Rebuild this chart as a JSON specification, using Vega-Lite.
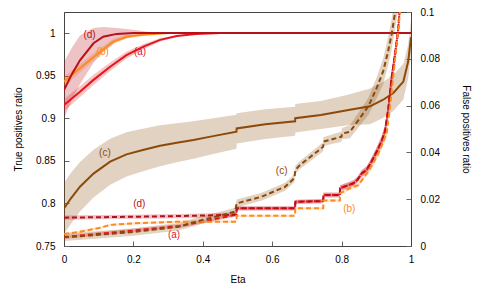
{
 "$schema": "https://vega.github.io/schema/vega-lite/v6.json",
 "width": 347,
 "height": 234,
 "autosize": {"type": "none"},
 "padding": {"left": 64, "top": 12, "right": 69, "bottom": 42},
 "config": {
  "view": {"stroke": "#444", "strokeWidth": 1},
  "font": "Liberation Sans",
  "text": {"font": "Liberation Sans", "fontSize": 10},
  "axis": {"labelFont": "Liberation Sans", "titleFont": "Liberation Sans", "labelFontSize": 10, "titleFontSize": 10, "titleFontWeight": "normal", "labelColor": "#000", "titleColor": "#000", "domainColor": "#444", "tickColor": "#666", "tickWidth": 1, "grid": false, "tickSize": -5, "labelPadding": 14, "labelFlush": false, "labelOverlap": false, "zindex": 1}
 },
 "datasets": {
  "tp": [
   {"eta": 0, "s": "a", "v": 0.9155, "lo": 0.9085, "hi": 0.9225},
   {"eta": 0.046, "s": "a", "v": 0.931, "lo": 0.9245, "hi": 0.9375},
   {"eta": 0.085, "s": "a", "v": 0.945, "lo": 0.939, "hi": 0.951},
   {"eta": 0.133, "s": "a", "v": 0.9605, "lo": 0.9555, "hi": 0.9655},
   {"eta": 0.18, "s": "a", "v": 0.974, "lo": 0.97, "hi": 0.978},
   {"eta": 0.229, "s": "a", "v": 0.984, "lo": 0.981, "hi": 0.987},
   {"eta": 0.277, "s": "a", "v": 0.992, "lo": 0.99, "hi": 0.994},
   {"eta": 0.325, "s": "a", "v": 0.9965, "lo": 0.9955, "hi": 0.9975},
   {"eta": 0.38, "s": "a", "v": 0.999, "lo": 0.9985, "hi": 0.9995},
   {"eta": 0.45, "s": "a", "v": 1.0, "lo": 1.0, "hi": 1.0},
   {"eta": 1.0, "s": "a", "v": 1.0, "lo": 1.0, "hi": 1.0},
   {"eta": 0, "s": "b", "v": 0.943, "lo": 0.937, "hi": 0.949},
   {"eta": 0.046, "s": "b", "v": 0.9586, "lo": 0.9536, "hi": 0.9636},
   {"eta": 0.104, "s": "b", "v": 0.978, "lo": 0.974, "hi": 0.982},
   {"eta": 0.142, "s": "b", "v": 0.99, "lo": 0.987, "hi": 0.993},
   {"eta": 0.18, "s": "b", "v": 0.9957, "lo": 0.9937, "hi": 0.9977},
   {"eta": 0.229, "s": "b", "v": 0.998, "lo": 0.997, "hi": 0.999},
   {"eta": 0.3, "s": "b", "v": 1.0, "lo": 1.0, "hi": 1.0},
   {"eta": 1.0, "s": "b", "v": 1.0, "lo": 1.0, "hi": 1.0},
   {"eta": 0, "s": "c", "v": 0.794, "lo": 0.764, "hi": 0.824},
   {"eta": 0.02, "s": "c", "v": 0.806, "lo": 0.776, "hi": 0.836},
   {"eta": 0.046, "s": "c", "v": 0.8196, "lo": 0.7906, "hi": 0.8486},
   {"eta": 0.085, "s": "c", "v": 0.835, "lo": 0.807, "hi": 0.863},
   {"eta": 0.133, "s": "c", "v": 0.849, "lo": 0.822, "hi": 0.876},
   {"eta": 0.18, "s": "c", "v": 0.8576, "lo": 0.8316, "hi": 0.8836},
   {"eta": 0.23, "s": "c", "v": 0.863, "lo": 0.838, "hi": 0.888},
   {"eta": 0.277, "s": "c", "v": 0.8677, "lo": 0.8437, "hi": 0.8917},
   {"eta": 0.325, "s": "c", "v": 0.8712, "lo": 0.8482, "hi": 0.8942},
   {"eta": 0.373, "s": "c", "v": 0.8744, "lo": 0.8524, "hi": 0.8964},
   {"eta": 0.43, "s": "c", "v": 0.879, "lo": 0.858, "hi": 0.9},
   {"eta": 0.497, "s": "c", "v": 0.8842, "lo": 0.8642, "hi": 0.9042},
   {"eta": 0.4976, "s": "c", "v": 0.888, "lo": 0.8702, "hi": 0.9058},
   {"eta": 0.58, "s": "c", "v": 0.893, "lo": 0.8755, "hi": 0.9105},
   {"eta": 0.666, "s": "c", "v": 0.8964, "lo": 0.8794, "hi": 0.9134},
   {"eta": 0.6665, "s": "c", "v": 0.9, "lo": 0.8833, "hi": 0.9167},
   {"eta": 0.74, "s": "c", "v": 0.9038, "lo": 0.8873, "hi": 0.9203},
   {"eta": 0.824, "s": "c", "v": 0.91, "lo": 0.892, "hi": 0.928},
   {"eta": 0.882, "s": "c", "v": 0.914, "lo": 0.893, "hi": 0.935},
   {"eta": 0.92, "s": "c", "v": 0.9217, "lo": 0.9007, "hi": 0.9427},
   {"eta": 0.949, "s": "c", "v": 0.9296, "lo": 0.9086, "hi": 0.9506},
   {"eta": 0.978, "s": "c", "v": 0.943, "lo": 0.922, "hi": 0.964},
   {"eta": 0.992, "s": "c", "v": 0.9668, "lo": 0.9468, "hi": 0.9868},
   {"eta": 1.0, "s": "c", "v": 0.995, "lo": 0.975, "hi": 1.015},
   {"eta": 0, "s": "d", "v": 0.933, "lo": 0.9, "hi": 0.966},
   {"eta": 0.023, "s": "d", "v": 0.952, "lo": 0.922, "hi": 0.983},
   {"eta": 0.046, "s": "d", "v": 0.968, "lo": 0.94, "hi": 0.997},
   {"eta": 0.085, "s": "d", "v": 0.988, "lo": 0.965, "hi": 1.006},
   {"eta": 0.113, "s": "d", "v": 0.9957, "lo": 0.978, "hi": 1.007},
   {"eta": 0.152, "s": "d", "v": 0.999, "lo": 0.99, "hi": 1.006},
   {"eta": 0.2, "s": "d", "v": 1.0, "lo": 0.996, "hi": 1.004},
   {"eta": 0.25, "s": "d", "v": 1.0, "lo": 0.999, "hi": 1.001},
   {"eta": 0.3, "s": "d", "v": 1.0, "lo": 1.0, "hi": 1.0},
   {"eta": 1.0, "s": "d", "v": 1.0, "lo": 1.0, "hi": 1.0}
  ],
  "fp": [
   {"eta": 0, "s": "a", "v": 0.0038, "lo": 0.003, "hi": 0.0046},
   {"eta": 0.1, "s": "a", "v": 0.0052, "lo": 0.0044, "hi": 0.006},
   {"eta": 0.2, "s": "a", "v": 0.0066, "lo": 0.0058, "hi": 0.0074},
   {"eta": 0.28, "s": "a", "v": 0.0078, "lo": 0.007, "hi": 0.0086},
   {"eta": 0.334, "s": "a", "v": 0.0086, "lo": 0.0078, "hi": 0.0094},
   {"eta": 0.4, "s": "a", "v": 0.0104, "lo": 0.0096, "hi": 0.0112},
   {"eta": 0.45, "s": "a", "v": 0.012, "lo": 0.0112, "hi": 0.0128},
   {"eta": 0.497, "s": "a", "v": 0.0134, "lo": 0.0126, "hi": 0.0142},
   {"eta": 0.4976, "s": "a", "v": 0.0161, "lo": 0.0153, "hi": 0.0169},
   {"eta": 0.666, "s": "a", "v": 0.0161, "lo": 0.0153, "hi": 0.0169},
   {"eta": 0.6665, "s": "a", "v": 0.0189, "lo": 0.0181, "hi": 0.0197},
   {"eta": 0.747, "s": "a", "v": 0.0192, "lo": 0.0184, "hi": 0.02},
   {"eta": 0.7475, "s": "a", "v": 0.0218, "lo": 0.0208, "hi": 0.0228},
   {"eta": 0.795, "s": "a", "v": 0.0218, "lo": 0.0208, "hi": 0.0228},
   {"eta": 0.7955, "s": "a", "v": 0.0247, "lo": 0.0235, "hi": 0.0259},
   {"eta": 0.834, "s": "a", "v": 0.0268, "lo": 0.0256, "hi": 0.028},
   {"eta": 0.845, "s": "a", "v": 0.0282, "lo": 0.027, "hi": 0.0294},
   {"eta": 0.858, "s": "a", "v": 0.031, "lo": 0.0296, "hi": 0.0324},
   {"eta": 0.872, "s": "a", "v": 0.0325, "lo": 0.031, "hi": 0.034},
   {"eta": 0.886, "s": "a", "v": 0.036, "lo": 0.0344, "hi": 0.0376},
   {"eta": 0.901, "s": "a", "v": 0.0403, "lo": 0.0385, "hi": 0.0421},
   {"eta": 0.915, "s": "a", "v": 0.0446, "lo": 0.0424, "hi": 0.0468},
   {"eta": 0.925, "s": "a", "v": 0.049, "lo": 0.0465, "hi": 0.0515},
   {"eta": 0.935, "s": "a", "v": 0.059, "lo": 0.056, "hi": 0.062},
   {"eta": 0.944, "s": "a", "v": 0.0718, "lo": 0.0688, "hi": 0.0748},
   {"eta": 0.954, "s": "a", "v": 0.0818, "lo": 0.0788, "hi": 0.0848},
   {"eta": 0.962, "s": "a", "v": 0.091, "lo": 0.088, "hi": 0.094},
   {"eta": 0.968, "s": "a", "v": 0.102, "lo": 0.099, "hi": 0.105},
   {"eta": 0.975, "s": "a", "v": 0.115, "lo": 0.112, "hi": 0.118},
   {"eta": 0, "s": "d", "v": 0.0121, "lo": 0.0112, "hi": 0.013},
   {"eta": 0.1, "s": "d", "v": 0.0123, "lo": 0.0114, "hi": 0.0132},
   {"eta": 0.2, "s": "d", "v": 0.0125, "lo": 0.0116, "hi": 0.0134},
   {"eta": 0.334, "s": "d", "v": 0.0128, "lo": 0.0119, "hi": 0.0137},
   {"eta": 0.45, "s": "d", "v": 0.0132, "lo": 0.0123, "hi": 0.0141},
   {"eta": 0.497, "s": "d", "v": 0.0135, "lo": 0.0126, "hi": 0.0144},
   {"eta": 0.4976, "s": "d", "v": 0.0161, "lo": 0.0152, "hi": 0.017},
   {"eta": 0.666, "s": "d", "v": 0.0161, "lo": 0.0152, "hi": 0.017},
   {"eta": 0.6665, "s": "d", "v": 0.0189, "lo": 0.018, "hi": 0.0198},
   {"eta": 0.747, "s": "d", "v": 0.0192, "lo": 0.0183, "hi": 0.0201},
   {"eta": 0.7475, "s": "d", "v": 0.0218, "lo": 0.0207, "hi": 0.0229},
   {"eta": 0.795, "s": "d", "v": 0.0218, "lo": 0.0207, "hi": 0.0229},
   {"eta": 0.7955, "s": "d", "v": 0.0247, "lo": 0.0234, "hi": 0.026},
   {"eta": 0.834, "s": "d", "v": 0.0268, "lo": 0.0255, "hi": 0.0281},
   {"eta": 0.845, "s": "d", "v": 0.0282, "lo": 0.0269, "hi": 0.0295},
   {"eta": 0.858, "s": "d", "v": 0.031, "lo": 0.0295, "hi": 0.0325},
   {"eta": 0.872, "s": "d", "v": 0.0325, "lo": 0.0309, "hi": 0.0341},
   {"eta": 0.886, "s": "d", "v": 0.036, "lo": 0.0343, "hi": 0.0377},
   {"eta": 0.901, "s": "d", "v": 0.0403, "lo": 0.0384, "hi": 0.0422},
   {"eta": 0.915, "s": "d", "v": 0.0446, "lo": 0.0423, "hi": 0.0469},
   {"eta": 0.925, "s": "d", "v": 0.049, "lo": 0.0464, "hi": 0.0516},
   {"eta": 0.935, "s": "d", "v": 0.059, "lo": 0.056, "hi": 0.062},
   {"eta": 0.944, "s": "d", "v": 0.0718, "lo": 0.0688, "hi": 0.0748},
   {"eta": 0.954, "s": "d", "v": 0.0818, "lo": 0.0788, "hi": 0.0848},
   {"eta": 0.962, "s": "d", "v": 0.091, "lo": 0.088, "hi": 0.094},
   {"eta": 0.968, "s": "d", "v": 0.102, "lo": 0.099, "hi": 0.105},
   {"eta": 0.975, "s": "d", "v": 0.115, "lo": 0.112, "hi": 0.118},
   {"eta": 0, "s": "b", "v": 0.0051, "lo": 0.0046, "hi": 0.0056},
   {"eta": 0.046, "s": "b", "v": 0.0061, "lo": 0.0056, "hi": 0.0066},
   {"eta": 0.104, "s": "b", "v": 0.0078, "lo": 0.0073, "hi": 0.0083},
   {"eta": 0.133, "s": "b", "v": 0.009, "lo": 0.0085, "hi": 0.0095},
   {"eta": 0.2, "s": "b", "v": 0.0097, "lo": 0.0092, "hi": 0.0102},
   {"eta": 0.334, "s": "b", "v": 0.0104, "lo": 0.0099, "hi": 0.0109},
   {"eta": 0.497, "s": "b", "v": 0.0104, "lo": 0.0099, "hi": 0.0109},
   {"eta": 0.4976, "s": "b", "v": 0.0129, "lo": 0.0124, "hi": 0.0134},
   {"eta": 0.666, "s": "b", "v": 0.0129, "lo": 0.0124, "hi": 0.0134},
   {"eta": 0.6665, "s": "b", "v": 0.0161, "lo": 0.0156, "hi": 0.0166},
   {"eta": 0.747, "s": "b", "v": 0.0161, "lo": 0.0156, "hi": 0.0166},
   {"eta": 0.7475, "s": "b", "v": 0.0194, "lo": 0.0188, "hi": 0.02},
   {"eta": 0.795, "s": "b", "v": 0.0194, "lo": 0.0188, "hi": 0.02},
   {"eta": 0.7955, "s": "b", "v": 0.0225, "lo": 0.0218, "hi": 0.0232},
   {"eta": 0.824, "s": "b", "v": 0.0247, "lo": 0.024, "hi": 0.0254},
   {"eta": 0.848, "s": "b", "v": 0.026, "lo": 0.0252, "hi": 0.0268},
   {"eta": 0.862, "s": "b", "v": 0.0289, "lo": 0.028, "hi": 0.0298},
   {"eta": 0.877, "s": "b", "v": 0.0318, "lo": 0.0308, "hi": 0.0328},
   {"eta": 0.891, "s": "b", "v": 0.0353, "lo": 0.0342, "hi": 0.0364},
   {"eta": 0.906, "s": "b", "v": 0.0396, "lo": 0.0383, "hi": 0.0409},
   {"eta": 0.92, "s": "b", "v": 0.0446, "lo": 0.0431, "hi": 0.0461},
   {"eta": 0.93, "s": "b", "v": 0.0482, "lo": 0.0465, "hi": 0.0499},
   {"eta": 0.94, "s": "b", "v": 0.06, "lo": 0.058, "hi": 0.062},
   {"eta": 0.95, "s": "b", "v": 0.074, "lo": 0.0715, "hi": 0.0765},
   {"eta": 0.96, "s": "b", "v": 0.088, "lo": 0.0855, "hi": 0.0905},
   {"eta": 0.97, "s": "b", "v": 0.102, "lo": 0.0995, "hi": 0.1045},
   {"eta": 0.976, "s": "b", "v": 0.112, "lo": 0.1095, "hi": 0.1145},
   {"eta": 0, "s": "c", "v": 0.0037, "lo": 0.0021, "hi": 0.0053},
   {"eta": 0.1, "s": "c", "v": 0.0048, "lo": 0.0032, "hi": 0.0064},
   {"eta": 0.2, "s": "c", "v": 0.006, "lo": 0.0044, "hi": 0.0076},
   {"eta": 0.33, "s": "c", "v": 0.0082, "lo": 0.0066, "hi": 0.0098},
   {"eta": 0.4, "s": "c", "v": 0.0112, "lo": 0.0096, "hi": 0.0128},
   {"eta": 0.45, "s": "c", "v": 0.013, "lo": 0.0114, "hi": 0.0146},
   {"eta": 0.4928, "s": "c", "v": 0.0147, "lo": 0.0131, "hi": 0.0163},
   {"eta": 0.4976, "s": "c", "v": 0.0182, "lo": 0.0165, "hi": 0.0199},
   {"eta": 0.57, "s": "c", "v": 0.0211, "lo": 0.0194, "hi": 0.0228},
   {"eta": 0.637, "s": "c", "v": 0.0253, "lo": 0.0236, "hi": 0.027},
   {"eta": 0.664, "s": "c", "v": 0.029, "lo": 0.0273, "hi": 0.0307},
   {"eta": 0.6665, "s": "c", "v": 0.0325, "lo": 0.0308, "hi": 0.0342},
   {"eta": 0.68, "s": "c", "v": 0.0346, "lo": 0.0329, "hi": 0.0363},
   {"eta": 0.747, "s": "c", "v": 0.0424, "lo": 0.0405, "hi": 0.0443},
   {"eta": 0.7475, "s": "c", "v": 0.0446, "lo": 0.0427, "hi": 0.0465},
   {"eta": 0.8, "s": "c", "v": 0.0467, "lo": 0.0445, "hi": 0.0489},
   {"eta": 0.8005, "s": "c", "v": 0.048, "lo": 0.0456, "hi": 0.0504},
   {"eta": 0.824, "s": "c", "v": 0.0488, "lo": 0.046, "hi": 0.0516},
   {"eta": 0.853, "s": "c", "v": 0.0547, "lo": 0.0515, "hi": 0.0579},
   {"eta": 0.877, "s": "c", "v": 0.0597, "lo": 0.056, "hi": 0.0634},
   {"eta": 0.901, "s": "c", "v": 0.0675, "lo": 0.063, "hi": 0.072},
   {"eta": 0.92, "s": "c", "v": 0.0747, "lo": 0.0692, "hi": 0.0802},
   {"eta": 0.934, "s": "c", "v": 0.0832, "lo": 0.0772, "hi": 0.0892},
   {"eta": 0.944, "s": "c", "v": 0.0903, "lo": 0.0838, "hi": 0.0968},
   {"eta": 0.954, "s": "c", "v": 0.0996, "lo": 0.0926, "hi": 0.1066},
   {"eta": 0.965, "s": "c", "v": 0.11, "lo": 0.103, "hi": 0.117}
  ],
  "tpl": [
   {"eta": 0.0737, "v": 0.9981, "s": "d", "t": "(d)"},
   {"eta": 0.1116, "v": 0.978, "s": "b", "t": "(b)"},
   {"eta": 0.219, "v": 0.978, "s": "a", "t": "(a)"},
   {"eta": 0.118, "v": 0.8588, "s": "c", "t": "(c)"}
  ],
  "fpl": [
   {"eta": 0.6273, "v": 0.0322, "s": "c", "t": "(c)"},
   {"eta": 0.217, "v": 0.0178, "s": "d", "t": "(d)"},
   {"eta": 0.317, "v": 0.0047, "s": "a", "t": "(a)"},
   {"eta": 0.8222, "v": 0.0158, "s": "b", "t": "(b)"}
  ]
 },
 "layer": [
  {
   "layer": [
    {
     "data": {"name": "tp"},
     "mark": {"type": "area", "fillOpacity": 0.25, "clip": true},
     "encoding": {
      "x": {"field": "eta", "type": "quantitative", "scale": {"domain": [0, 1], "nice": false, "zero": false}, "axis": {"orient": "bottom", "values": [0, 0.2, 0.4, 0.6, 0.8, 1], "format": "~g", "title": "Eta", "labelPadding": 13, "titlePadding": 10}},
      "y": {"field": "lo", "type": "quantitative", "scale": {"domain": [0.75, 1.0247], "nice": false, "zero": false}, "axis": {"orient": "left", "values": [0.75, 0.8, 0.85, 0.9, 0.95, 1], "format": "~g", "title": "True positives ratio", "titlePadding": 12}},
      "y2": {"field": "hi"},
      "color": {"field": "s", "type": "nominal", "scale": {"domain": ["a", "b", "c", "d"], "range": ["#e8141c", "#ff8a1e", "#8c4a0a", "#b8101a"]}, "legend": null},
      "detail": {"field": "s"}
     }
    },
    {
     "data": {"name": "tp"},
     "mark": {"type": "line", "strokeWidth": 2, "clip": true},
     "encoding": {
      "x": {"field": "eta", "type": "quantitative", "scale": {"domain": [0, 1], "nice": false, "zero": false}, "axis": {"orient": "bottom", "values": [0, 0.2, 0.4, 0.6, 0.8, 1], "format": "~g", "title": "Eta", "labelPadding": 13, "titlePadding": 10}},
      "y": {"field": "v", "type": "quantitative", "scale": {"domain": [0.75, 1.0247], "nice": false, "zero": false}, "axis": {"orient": "left", "values": [0.75, 0.8, 0.85, 0.9, 0.95, 1], "format": "~g", "title": "True positives ratio", "titlePadding": 12}},
      "color": {"field": "s", "type": "nominal", "scale": {"domain": ["a", "b", "c", "d"], "range": ["#e8141c", "#ff8a1e", "#8c4a0a", "#b8101a"]}, "legend": null}
     }
    },
    {
     "data": {"name": "tpl"},
     "mark": {"type": "text", "fontSize": 10, "align": "center", "baseline": "middle"},
     "encoding": {
      "x": {"field": "eta", "type": "quantitative", "scale": {"domain": [0, 1], "nice": false, "zero": false}, "axis": {"orient": "bottom", "values": [0, 0.2, 0.4, 0.6, 0.8, 1], "format": "~g", "title": "Eta", "labelPadding": 13, "titlePadding": 10}},
      "y": {"field": "v", "type": "quantitative", "scale": {"domain": [0.75, 1.0247], "nice": false, "zero": false}, "axis": {"orient": "left", "values": [0.75, 0.8, 0.85, 0.9, 0.95, 1], "format": "~g", "title": "True positives ratio", "titlePadding": 12}},
      "text": {"field": "t"},
      "color": {"field": "s", "type": "nominal", "scale": {"domain": ["a", "b", "c", "d"], "range": ["#e8141c", "#ff8a1e", "#8c4a0a", "#b8101a"]}, "legend": null}
     }
    }
   ]
  },
  {
   "layer": [
    {
     "data": {"name": "fp"},
     "mark": {"type": "area", "fillOpacity": 0.25, "clip": true},
     "encoding": {
      "x": {"field": "eta", "type": "quantitative", "scale": {"domain": [0, 1], "nice": false, "zero": false}, "axis": {"orient": "bottom", "values": [0, 0.2, 0.4, 0.6, 0.8, 1], "format": "~g", "title": "Eta", "labelPadding": 13, "titlePadding": 10}},
      "y": {"field": "lo", "type": "quantitative", "scale": {"domain": [0, 0.1], "nice": false}, "axis": {"orient": "right", "values": [0, 0.02, 0.04, 0.06, 0.08, 0.1], "format": "~g", "title": "False positives ratio", "titlePadding": 21}},
      "y2": {"field": "hi"},
      "color": {"field": "s", "type": "nominal", "scale": {"domain": ["a", "b", "c", "d"], "range": ["#e8141c", "#ff8a1e", "#8c4a0a", "#b8101a"]}, "legend": null},
      "detail": {"field": "s"}
     }
    },
    {
     "data": {"name": "fp"},
     "mark": {"type": "line", "strokeWidth": 2, "strokeDash": [5, 3], "clip": true},
     "encoding": {
      "x": {"field": "eta", "type": "quantitative", "scale": {"domain": [0, 1], "nice": false, "zero": false}, "axis": {"orient": "bottom", "values": [0, 0.2, 0.4, 0.6, 0.8, 1], "format": "~g", "title": "Eta", "labelPadding": 13, "titlePadding": 10}},
      "y": {"field": "v", "type": "quantitative", "scale": {"domain": [0, 0.1], "nice": false}, "axis": {"orient": "right", "values": [0, 0.02, 0.04, 0.06, 0.08, 0.1], "format": "~g", "title": "False positives ratio", "titlePadding": 21}},
      "color": {"field": "s", "type": "nominal", "scale": {"domain": ["a", "b", "c", "d"], "range": ["#e8141c", "#ff8a1e", "#8c4a0a", "#b8101a"]}, "legend": null}
     }
    },
    {
     "data": {"name": "fpl"},
     "mark": {"type": "text", "fontSize": 10, "align": "center", "baseline": "middle"},
     "encoding": {
      "x": {"field": "eta", "type": "quantitative", "scale": {"domain": [0, 1], "nice": false, "zero": false}, "axis": {"orient": "bottom", "values": [0, 0.2, 0.4, 0.6, 0.8, 1], "format": "~g", "title": "Eta", "labelPadding": 13, "titlePadding": 10}},
      "y": {"field": "v", "type": "quantitative", "scale": {"domain": [0, 0.1], "nice": false}, "axis": {"orient": "right", "values": [0, 0.02, 0.04, 0.06, 0.08, 0.1], "format": "~g", "title": "False positives ratio", "titlePadding": 21}},
      "text": {"field": "t"},
      "color": {"field": "s", "type": "nominal", "scale": {"domain": ["a", "b", "c", "d"], "range": ["#e8141c", "#ff8a1e", "#8c4a0a", "#b8101a"]}, "legend": null}
     }
    }
   ]
  }
 ],
 "resolve": {"scale": {"y": "independent"}}
}
